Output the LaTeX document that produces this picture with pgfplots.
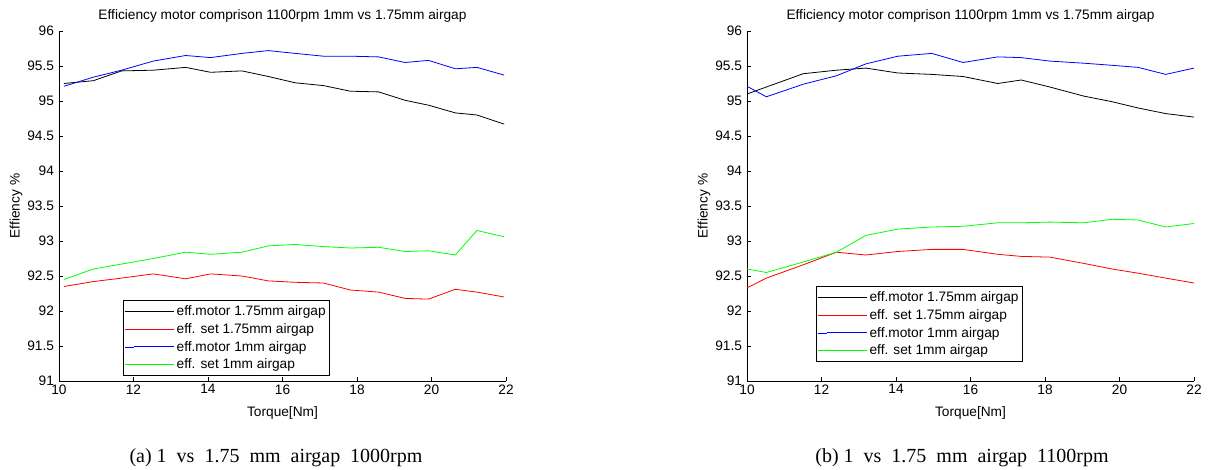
\documentclass[border=0pt]{standalone}
\usepackage{pgfplots}
\pgfplotsset{compat=1.18}
\usepackage{fontspec}
\setmainfont{Liberation Sans}
\newfontfamily\capfont{Liberation Serif}
\newcommand\gap{\hspace{10bp}}
\definecolor{mblack}{rgb}{0,0,0}
\definecolor{mred}{rgb}{1,0,0}
\definecolor{mblue}{rgb}{0,0,1}
\definecolor{mgreen}{rgb}{0,1,0}
\newcommand\sfsize{\fontsize{13.7bp}{16bp}\selectfont}
\pgfplotsset{
  effstyle/.style={
    scale only axis, width=447bp, height=350bp,
    xmin=10, xmax=22, ymin=91, ymax=96,
    xtick={10,12,...,22}, ytick={91,91.5,...,96},
    axis x line*=bottom, axis y line*=left,
    tick align=inside, major tick length=4bp,
    axis line style={line width=0.7bp}, every tick/.style={line width=0.7bp, black},
    /pgf/number format/assume math mode=true,
    every axis title/.style={at={(0.5,1)}, anchor=base, yshift=11bp, font=\sfsize},
    every axis x label/.style={at={(0.5,0)}, anchor=base, yshift=-35.5bp, font=\sfsize},
    every axis y label/.style={at={(0,0.5)}, xshift=-43bp, rotate=90, anchor=center, font=\sfsize},
    tick label style={font=\sfsize},
    yticklabel style={xshift=-1.5bp},
    title={Efficiency motor comprison 1100rpm 1mm vs 1.75mm airgap},
    xlabel={Torque[Nm]}, ylabel={Effiency \%},
    legend cell align=left,
    legend image code/.code={\path (0bp,0bp) -- (9bp,0bp); \draw[#1, line width=1bp] (9bp,0bp) -- (49bp,0bp);},
    legend style={draw=black, line width=0.7bp, anchor=south west, row sep=1.2bp,
      inner xsep=1bp, inner ysep=3bp, font=\sfsize,
      nodes={inner sep=2.5bp}},
    every axis plot/.append style={line width=0.8bp},
  }
}
\begin{document}
\begin{tikzpicture}
\path[use as bounding box] (0,0) rectangle (1212bp,470bp);
\begin{axis}[effstyle, at={(59bp,89bp)}, anchor=south west,
  legend style={at={(rel axis cs:0.143,0.014)}}]
\addplot[draw=mblack] coordinates {(10.13,95.25)(10.92,95.29)(11.68,95.43)(12.53,95.44)(13.40,95.48)(14.07,95.41)(14.91,95.43)(15.62,95.35)(16.34,95.26)(17.10,95.22)(17.82,95.14)(18.58,95.13)(19.29,95.01)(19.92,94.94)(20.64,94.83)(21.22,94.80)(21.95,94.67)};
\addlegendentry{eff.motor 1.75mm airgap}
\addplot[draw=mred] coordinates {(10.13,92.35)(10.92,92.42)(11.68,92.47)(12.53,92.53)(13.40,92.46)(14.07,92.53)(14.91,92.50)(15.62,92.43)(16.34,92.41)(17.10,92.40)(17.82,92.30)(18.58,92.27)(19.29,92.18)(19.92,92.17)(20.64,92.31)(21.22,92.27)(21.95,92.20)};
\addlegendentry{eff. set 1.75mm airgap}
\addplot[draw=mblue] coordinates {(10.13,95.21)(10.92,95.34)(11.68,95.44)(12.53,95.57)(13.40,95.65)(14.07,95.62)(14.91,95.68)(15.62,95.72)(16.34,95.68)(17.10,95.64)(17.82,95.64)(18.58,95.63)(19.29,95.55)(19.92,95.58)(20.64,95.46)(21.22,95.48)(21.95,95.37)};
\addlegendentry{eff.motor 1mm airgap}
\addplot[draw=mgreen] coordinates {(10.13,92.45)(10.92,92.60)(11.68,92.67)(12.53,92.75)(13.40,92.84)(14.07,92.81)(14.91,92.84)(15.62,92.93)(16.34,92.95)(17.10,92.92)(17.82,92.90)(18.58,92.91)(19.29,92.85)(19.92,92.86)(20.64,92.80)(21.22,93.15)(21.95,93.06)};
\addlegendentry{eff. set 1mm airgap}
\end{axis}
\begin{axis}[effstyle, at={(747bp,89bp)}, anchor=south west,
  legend style={at={(rel axis cs:0.154,0.054)}}]
\addplot[draw=mblack] coordinates {(10,95.10)(10.52,95.20)(11.51,95.39)(12.4,95.44)(13.19,95.47)(14.05,95.40)(14.96,95.38)(15.8,95.35)(16.73,95.25)(17.36,95.30)(18.13,95.20)(19.04,95.07)(19.8,94.99)(20.5,94.90)(21.24,94.82)(22,94.77)};
\addlegendentry{eff.motor 1.75mm airgap}
\addplot[draw=mred] coordinates {(10,92.33)(10.52,92.47)(11.51,92.66)(12.4,92.84)(13.19,92.80)(14.05,92.85)(14.96,92.88)(15.8,92.88)(16.73,92.81)(17.36,92.78)(18.13,92.77)(19.04,92.68)(19.8,92.60)(20.5,92.54)(21.24,92.47)(22,92.40)};
\addlegendentry{eff. set 1.75mm airgap}
\addplot[draw=mblue] coordinates {(10,95.21)(10.52,95.06)(11.51,95.24)(12.4,95.36)(13.19,95.53)(14.05,95.64)(14.96,95.68)(15.8,95.55)(16.73,95.63)(17.36,95.62)(18.13,95.57)(19.04,95.54)(19.8,95.51)(20.5,95.48)(21.24,95.38)(22,95.47)};
\addlegendentry{eff.motor 1mm airgap}
\addplot[draw=mgreen] coordinates {(10,92.60)(10.52,92.55)(11.51,92.70)(12.4,92.84)(13.19,93.08)(14.05,93.17)(14.96,93.20)(15.8,93.21)(16.73,93.26)(17.36,93.26)(18.13,93.27)(19.04,93.26)(19.8,93.31)(20.5,93.30)(21.24,93.20)(22,93.25)};
\addlegendentry{eff. set 1mm airgap}
\end{axis}
\node[font=\capfont\fontsize{20bp}{22bp}\selectfont, anchor=center] at (276bp,12bp) {(a)\hspace{5bp}1\gap vs\gap 1.75\gap mm\gap airgap\gap 1000rpm};
\node[font=\capfont\fontsize{20bp}{22bp}\selectfont, anchor=center] at (962bp,12bp) {(b)\hspace{5bp}1\gap vs\gap 1.75\gap mm\gap airgap\gap 1100rpm};
\end{tikzpicture}
\end{document}
